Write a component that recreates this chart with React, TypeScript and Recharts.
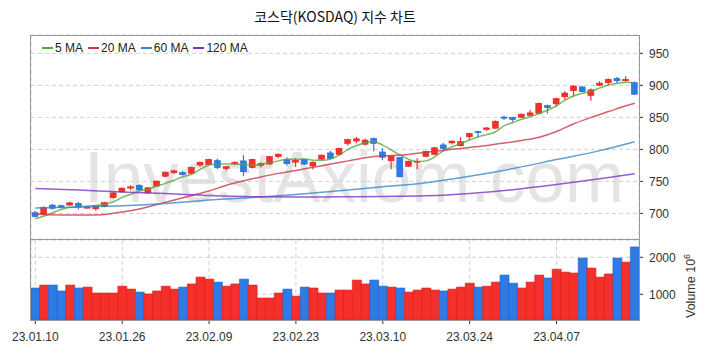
import React from "react";
import { ComposedChart, Bar, Line, XAxis, YAxis, CartesianGrid, Cell } from "recharts";

// trading days shown (KOSDAQ, Jan 10 – Apr 20 2023)
const DATES = [
  "23.01.10", "23.01.11", "23.01.12", "23.01.13", "23.01.16", "23.01.17", "23.01.18", "23.01.19", "23.01.20", "23.01.25",
  "23.01.26", "23.01.27", "23.01.30", "23.01.31", "23.02.01", "23.02.02", "23.02.03", "23.02.06", "23.02.07", "23.02.08",
  "23.02.09", "23.02.10", "23.02.13", "23.02.14", "23.02.15", "23.02.16", "23.02.17", "23.02.20", "23.02.21", "23.02.22",
  "23.02.23", "23.02.24", "23.02.27", "23.02.28", "23.03.02", "23.03.03", "23.03.06", "23.03.07", "23.03.08", "23.03.09",
  "23.03.10", "23.03.13", "23.03.14", "23.03.15", "23.03.16", "23.03.17", "23.03.20", "23.03.21", "23.03.22", "23.03.23",
  "23.03.24", "23.03.27", "23.03.28", "23.03.29", "23.03.30", "23.03.31", "23.04.03", "23.04.04", "23.04.05", "23.04.06",
  "23.04.07", "23.04.10", "23.04.11", "23.04.12", "23.04.13", "23.04.14", "23.04.17", "23.04.18", "23.04.19", "23.04.20",
];

const OPEN = [
  701, 699, 713, 712, 713, 715.5, 709, 707, 710.5, 724.5,
  733.5, 739.5, 744, 732, 742.5, 758, 763.5, 764, 762.5, 775.5,
  776, 782.5, 770, 777.5, 782, 771.5, 775, 777, 788.5, 784.5,
  780, 784.5, 774, 784.5, 794.5, 792, 809, 813, 808, 817,
  796, 782, 787.5, 773.5, 780, 789, 792, 807, 810, 805.5,
  819.5, 828, 831, 833, 850.5, 850, 850, 853, 856, 868.5,
  871, 882, 891.5, 897.5, 884, 900, 904, 911, 907, 904.5,
];
const HIGH = [
  704, 711, 714.5, 713.5, 718, 718, 711.5, 713, 718, 733,
  740.5, 744, 745.5, 741, 751.5, 765.5, 768, 766.5, 773, 781,
  785.5, 785.5, 774, 781, 791, 785.5, 779.5, 790, 794, 787.5,
  786.5, 785.5, 781, 792, 798, 802.5, 816.5, 819.5, 817, 818.5,
  801.5, 790.5, 788.5, 782.5, 786, 798, 803.5, 810, 814, 819,
  826, 829, 835, 845, 852.5, 851, 856, 861.5, 873, 870,
  880.5, 891, 900, 899.5, 895, 906.5, 911, 913, 914, 906,
];
const LOW = [
  693.5, 698, 706, 707.5, 712, 706, 707.5, 704, 709.5, 723.5,
  732.5, 736, 735.5, 730.5, 741.5, 756, 761.5, 759, 761.5, 773,
  775, 769.5, 767, 775, 758, 770, 771.5, 776, 786, 774.5,
  772.5, 775.5, 768.5, 783.5, 784.5, 791, 806, 809.5, 806, 797,
  783, 769, 756.5, 772.5, 769, 787.5, 791, 797, 807.5, 805,
  814.5, 818, 829, 832, 846, 843, 849, 852.5, 855, 856,
  866.5, 877, 882, 889, 876, 899, 900, 903, 906, 885,
];
const CLOSE = [
  695, 709.5, 708, 709.5, 716.5, 709.5, 710, 712.5, 717, 732,
  739.5, 741.5, 736.5, 740, 750.5, 764.5, 766.5, 760.5, 772, 780,
  784.5, 771.5, 773, 780, 765, 784.5, 778, 789, 792.5, 777.5,
  783, 777, 780, 791, 785.5, 801.5, 815.5, 816.5, 814.5, 809,
  787.5, 789.5, 757, 781.5, 781.5, 797, 802.5, 801, 813, 812,
  825, 826, 833.5, 844, 849, 846.5, 855, 857, 872, 865,
  879.5, 888, 899, 890, 893, 903.5, 909.5, 907, 909.5, 886,
];

// volume, millions of shares
const VOLUME = [
  1170, 1250, 1250, 1090, 1250, 1170, 1195, 1035, 1035, 1035,
  1220, 1140, 1060, 1010, 1090, 1220, 1140, 1195, 1280, 1465,
  1410, 1330, 1220, 1280, 1410, 1250, 900, 900, 1035, 1140,
  950, 1195, 1170, 1035, 1035, 1115, 1115, 1385, 1280, 1385,
  1220, 1195, 1170, 1060, 1115, 1170, 1115, 1090, 1140, 1195,
  1300, 1195, 1220, 1330, 1520, 1300, 1170, 1330, 1520, 1440,
  1680, 1600, 1575, 1980, 1710, 1465, 1550, 1980, 1870, 2280,
];

const MA5 = [
  691.6, 695.8, 701, 706, 709.4, 710.3, 711.4, 712.5, 714.5, 718,
  725, 730, 734.8, 737.5, 742.7, 746.9, 752, 757.2, 761, 768.7,
  775.5, 777, 777, 777, 776.5, 775.5, 776.5, 779, 782, 784.4,
  784.4, 785, 783, 783, 785, 791, 800, 806, 810.3, 812,
  806.7, 799, 791, 784.4, 781, 782, 788.5, 798, 804, 809.4,
  814.5, 819.7, 823, 827.5, 837, 842, 847, 851, 856, 861.4,
  868, 877, 883.8, 887.5, 891, 896, 900.5, 903, 904.7, 903,
];

// longer averages at a few bars: [bar index, value]
const MA20_PTS: [number, number][] = [
  [0, 699], [3, 697.5], [6, 697.3], [8, 698.4], [10, 702], [12, 707], [14, 714], [16, 721],
  [18, 728], [20, 735], [22, 744], [24, 751], [26, 757], [28, 762.5], [30, 767], [32, 772],
  [34, 777], [36, 782], [38, 787], [40, 790], [42, 791], [44, 794], [46, 797], [48, 800],
  [50, 803], [52, 806], [54, 810], [56, 814], [58, 819], [60, 828], [62, 840], [64, 850],
  [66, 859], [68, 868], [69, 872],
];
const MA60_PTS: [number, number][] = [
  [0, 708.5], [5, 710], [10, 712], [15, 715.5], [20, 721], [25, 725], [30, 729.5], [35, 735.5],
  [40, 741.5], [45, 748], [50, 758], [55, 770], [60, 784], [65, 798], [69, 812],
];
const MA120_PTS: [number, number][] = [
  [0, 739], [5, 736.5], [10, 733.5], [15, 731], [20, 728], [25, 726], [30, 725.5], [35, 726],
  [40, 726.5], [45, 727.5], [50, 731], [55, 737], [60, 745], [65, 754], [69, 762],
];

const DATE_TICKS = ["23.01.10", "23.01.26", "23.02.09", "23.02.23", "23.03.10", "23.03.24", "23.04.07"];
const PRICE_TICKS = [700, 750, 800, 850, 900, 950];
const VOLUME_TICKS = [1000, 2000];

const UP = "#f5302a";
const UP_EDGE = "#d81f1a";
const DOWN = "#2f7be6";
const DOWN_EDGE = "#1f63c8";

const MA_LINES = [
  { key: "ma5", name: "5 MA", color: "#56a640" },
  { key: "ma20", name: "20 MA", color: "#c8384a" },
  { key: "ma60", name: "60 MA", color: "#3a86c8" },
  { key: "ma120", name: "120 MA", color: "#7a34c2" },
];

const FONT = "'Liberation Sans', Arial, sans-serif";

const pick = (pts: [number, number][], i: number) => {
  const hit = pts.find((p) => p[0] === i);
  return hit ? hit[1] : null;
};

const rows = DATES.map((date, i) => ({
  date,
  open: OPEN[i],
  high: HIGH[i],
  low: LOW[i],
  close: CLOSE[i],
  range: [LOW[i], HIGH[i]],
  volume: VOLUME[i],
  up: CLOSE[i] >= OPEN[i],
  ma5: MA5[i],
  ma20: pick(MA20_PTS, i),
  ma60: pick(MA60_PTS, i),
  ma120: pick(MA120_PTS, i),
}));

function Candle(props: any) {
  const { x, y, width, height, payload } = props;
  if (!payload || height == null) return null;
  const { open, close, high, low, up } = payload;
  const toY = (v: number) => y + ((high - v) / (high - low)) * height;
  const cx = x + width / 2;
  const top = toY(Math.max(open, close));
  const bot = toY(Math.min(open, close));
  const fill = up ? UP : DOWN;
  return (
    <g>
      <line x1={cx} x2={cx} y1={y} y2={y + height} stroke={fill} strokeWidth={1.2} />
      <rect
        x={x}
        y={top}
        width={width}
        height={Math.max(bot - top, 1.2)}
        fill={fill}
        stroke={up ? UP_EDGE : DOWN_EDGE}
        strokeWidth={0.5}
      />
    </g>
  );
}

const tickStyle = { fontSize: 12, fill: "#333", fontFamily: FONT };

export default function App() {
  return (
    <div
      style={{
        position: "absolute",
        left: 0,
        top: 0,
        width: 709,
        height: 353,
        background: "#fff",
        fontFamily: FONT,
        overflow: "hidden",
      }}
    >
      <svg width={709} height={353} style={{ position: "absolute", left: 0, top: 0 }}>
        <text
          x={84}
          y={202}
          fontSize={72}
          fontFamily={FONT}
          fill="#e4e4e4"
          textLength={540}
          lengthAdjust="spacingAndGlyphs"
        >
          InvestAxiom.com
        </text>
      </svg>

      <div
        style={{
          position: "absolute",
          left: 0,
          width: 670,
          top: 6,
          textAlign: "center",
          fontSize: 14,
          color: "#111",
          fontFamily: "'Noto Sans CJK KR', 'Noto Sans', sans-serif",
        }}
      >
        코스닥(KOSDAQ) 지수 차트
      </div>

      <div style={{ position: "absolute", left: 0, top: 0 }}>
        <ComposedChart width={709} height={240} data={rows} margin={{ top: 35, right: 0, left: 31, bottom: 1 }}>
          <CartesianGrid stroke="#cfcfcf" strokeDasharray="4 3" />
          <XAxis
            dataKey="date"
            ticks={DATE_TICKS}
            height={0}
            tick={false}
            tickLine={false}
            axisLine={false}
          />
          <YAxis
            orientation="right"
            width={70}
            domain={[660, 978.6]}
            allowDataOverflow
            ticks={PRICE_TICKS}
            tick={tickStyle}
            tickSize={4}
            tickMargin={6}
            tickLine={{ stroke: "#333" }}
            axisLine={false}
          />
          {MA_LINES.map((m) => (
            <Line
              key={m.key}
              dataKey={m.key}
              type="monotone"
              stroke={m.color}
              strokeWidth={1.5}
              strokeOpacity={0.8}
              dot={false}
              connectNulls
              isAnimationActive={false}
            />
          ))}
          <Bar dataKey="range" barSize={6} shape={<Candle />} isAnimationActive={false} />
        </ComposedChart>
      </div>

      <div style={{ position: "absolute", left: 0, top: 239 }}>
        <ComposedChart
          width={709}
          height={114}
          data={rows}
          margin={{ top: 1, right: 0, left: 31, bottom: 0 }}
          barCategoryGap={0}
        >
          <CartesianGrid stroke="#cfcfcf" strokeDasharray="4 3" />
          <XAxis
            dataKey="date"
            ticks={DATE_TICKS}
            interval={0}
            height={33}
            tick={tickStyle}
            tickSize={4}
            tickMargin={8}
            tickLine={{ stroke: "#333" }}
            axisLine={false}
          />
          <YAxis
            orientation="right"
            width={70}
            domain={[305, 2468]}
            allowDataOverflow
            ticks={VOLUME_TICKS}
            tick={tickStyle}
            tickSize={4}
            tickMargin={6}
            tickLine={{ stroke: "#333" }}
            axisLine={false}
          />
          <Bar dataKey="volume" isAnimationActive={false} strokeWidth={0.6}>
            {rows.map((r) => (
              <Cell key={r.date} fill={r.up ? UP : DOWN} stroke={r.up ? UP_EDGE : DOWN_EDGE} />
            ))}
          </Bar>
        </ComposedChart>
      </div>

      {/* panel frames */}
      <div
        style={{
          position: "absolute",
          left: 30,
          top: 35,
          width: 610,
          height: 205,
          border: "1px solid #999",
          boxSizing: "border-box",
          pointerEvents: "none",
        }}
      />
      <div
        style={{
          position: "absolute",
          left: 30,
          top: 239,
          width: 610,
          height: 82,
          border: "1px solid #999",
          boxSizing: "border-box",
          pointerEvents: "none",
        }}
      />

      {/* legend */}
      <div
        style={{
          position: "absolute",
          left: 42,
          top: 41,
          display: "flex",
          alignItems: "center",
          fontSize: 12,
          color: "#222",
          whiteSpace: "nowrap",
        }}
      >
        {MA_LINES.map((m) => (
          <span key={m.key} style={{ display: "inline-flex", alignItems: "center", marginRight: 5 }}>
            <span style={{ display: "inline-block", width: 11, height: 2, background: m.color, marginRight: 2 }} />
            {m.name}
          </span>
        ))}
      </div>

      <svg width={709} height={353} style={{ position: "absolute", left: 0, top: 0, pointerEvents: "none" }}>
        <text transform="translate(695,318) rotate(-90)" fontSize={12.5} fontFamily={FONT} fill="#333">
          Volume{"  "}10
          <tspan dy={-5} fontSize={9}>
            6
          </tspan>
        </text>
      </svg>
    </div>
  );
}
